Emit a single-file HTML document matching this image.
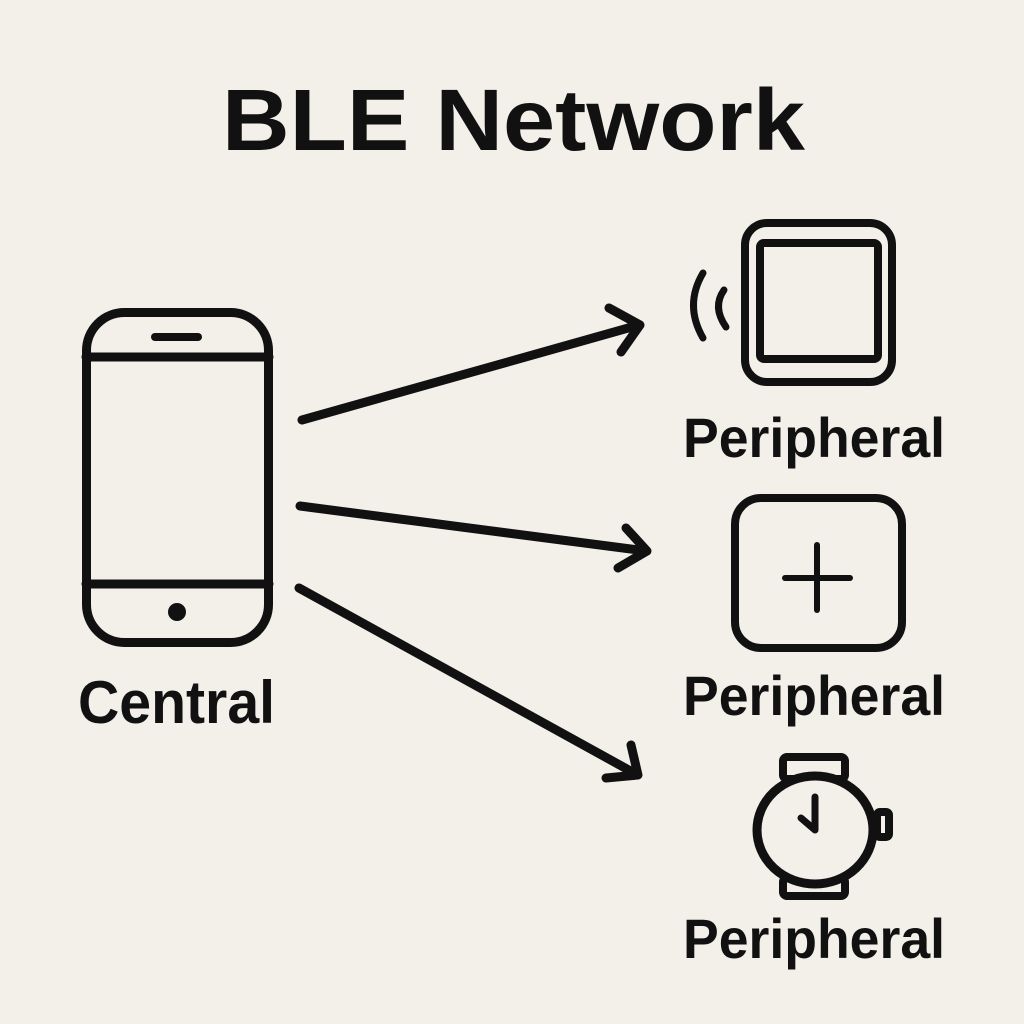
<!DOCTYPE html>
<html><head><style>
html,body{margin:0;padding:0;background:#f3f0ea;}
svg{display:block}
text{font-family:"Liberation Sans",sans-serif;font-weight:bold;fill:#111}
</style></head><body>
<svg width="1024" height="1024" viewBox="0 0 1024 1024" xmlns="http://www.w3.org/2000/svg">
<rect width="1024" height="1024" fill="#f3f0ea"/>
<text x="222" y="150" font-size="87" textLength="583" lengthAdjust="spacingAndGlyphs">BLE Network</text>
<g fill="none" stroke="#111" stroke-width="9" stroke-linecap="round" stroke-linejoin="round">
  <!-- phone -->
  <rect x="86.5" y="312.5" width="182" height="330" rx="38"/>
  <line x1="86" y1="357" x2="269" y2="357"/>
  <line x1="86" y1="584" x2="269" y2="584"/>
  <line x1="155" y1="337" x2="198" y2="337" stroke-width="8"/>
  <!-- arrows -->
  <line x1="302" y1="420" x2="639" y2="325"/>
  <polyline points="609,308 640,325 621,352"/>
  <line x1="300" y1="506" x2="646" y2="551"/>
  <polyline points="626,528 647,551 618,568"/>
  <line x1="299" y1="588" x2="636" y2="774"/>
  <polyline points="631,745 638,775 606,778"/>
  <!-- peripheral 1 -->
  <rect x="745" y="223" width="147" height="159" rx="22" stroke-width="8"/>
  <rect x="760" y="243" width="118" height="116" rx="4" stroke-width="8"/>
  <path d="M703,273 Q684,305 703,338" stroke-width="7"/>
  <path d="M724,290 Q712,307 726,327" stroke-width="7"/>
  <!-- peripheral 2 -->
  <rect x="735" y="498" width="167" height="150" rx="26" stroke-width="8"/>
  <line x1="817" y1="545" x2="817" y2="610" stroke-width="6"/>
  <line x1="785" y1="578" x2="850" y2="578" stroke-width="6"/>
  <!-- watch -->
  <rect x="783" y="757" width="62" height="22" rx="4" stroke-width="8"/>
  <rect x="783" y="878" width="62" height="18" rx="4" stroke-width="8"/>
  <rect x="877" y="812" width="12" height="25" rx="3" stroke-width="8"/>
  <ellipse cx="815" cy="830" rx="58" ry="54" fill="#f3f0ea" stroke-width="9"/>
  <polyline points="815,797 815,830 801,818" stroke-width="7"/>
</g>
<circle cx="177" cy="612" r="9" fill="#111"/>
<text x="78" y="723" font-size="60" textLength="197" lengthAdjust="spacingAndGlyphs">Central</text>
<text x="683" y="457" font-size="56" textLength="262" lengthAdjust="spacingAndGlyphs">Peripheral</text>
<text x="683" y="715" font-size="56" textLength="262" lengthAdjust="spacingAndGlyphs">Peripheral</text>
<text x="683" y="958" font-size="56" textLength="262" lengthAdjust="spacingAndGlyphs">Peripheral</text>
</svg>
</body></html>
